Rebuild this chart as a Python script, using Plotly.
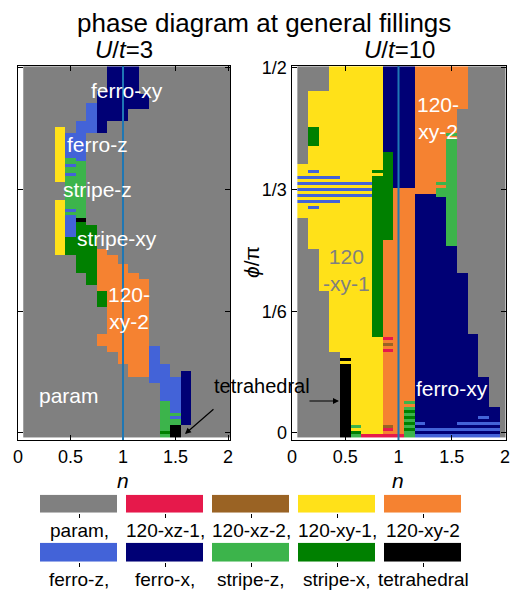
import numpy as np
import plotly.graph_objects as go

# ---------------- data ----------------
phases = ["param", "120-xz-1", "120-xz-2", "120-xy-1", "120-xy-2",
          "ferro-z", "ferro-x", "stripe-z", "stripe-x", "tetrahedral"]
phase_colors = ["#808080", "#E6194B", "#9A6324", "#FFE119", "#F58231",
                "#4363D8", "#000075", "#3CB44B", "#008000", "#000000"]
legend_top = ["param,", "120-xz-1,", "120-xz-2,", "120-xy-1,", "120-xy-2"]
legend_bottom = ["ferro-z,", "ferro-x,", "stripe-z,", "stripe-x,", "tetrahedral"]

n_values = [0.1, 0.2, 0.3, 0.4, 0.5, 0.6, 0.7, 0.8, 0.9, 1.0,
            1.1, 1.2, 1.3, 1.4, 1.5, 1.6, 1.7, 1.8, 1.9, 2.0]
phi_rows = np.arange(-1, 121) / 240.0          # phi/pi grid (row centres)

x_ticks = [0, 0.5, 1, 1.5, 2]
x_ticktext = ["0", "0.5", "1", "1.5", "2"]
phi_ticks = [0, 1 / 6, 1 / 3, 1 / 2]
phi_ticktext = ["0", "1/6", "1/3", "1/2"]

# (n_from, n_to, phase, phi_lo, phi_hi)  phi in units of pi, background = param
segments_u3 = [
    (0.4, 0.4, "120-xy-1", 0.3458, 0.4167),
    (0.4, 0.4, "120-xy-1", 0.2458, 0.3167),
    (0.5, 0.5, "ferro-z", 0.3792, 0.4083),
    (0.5, 0.5, "stripe-z", 0.3000, 0.3750),
    (0.5, 0.5, "ferro-z", 0.3667, 0.3667),
    (0.5, 0.5, "ferro-z", 0.3542, 0.3542),
    (0.5, 0.5, "ferro-z", 0.3042, 0.3042),
    (0.5, 0.5, "ferro-z", 0.2708, 0.2958),
    (0.5, 0.5, "stripe-x", 0.2458, 0.2667),
    (0.6, 0.6, "ferro-z", 0.3750, 0.4250),
    (0.6, 0.6, "stripe-z", 0.2958, 0.3708),
    (0.6, 0.6, "tetrahedral", 0.2917, 0.2917),
    (0.6, 0.6, "stripe-x", 0.2208, 0.2875),
    (0.7, 0.7, "ferro-z", 0.4125, 0.4500),
    (0.7, 0.7, "stripe-x", 0.2042, 0.2833),
    (0.8, 0.8, "ferro-x", 0.4125, 0.4667),
    (0.8, 0.8, "120-xy-2", 0.1958, 0.2500),
    (0.8, 0.8, "stripe-x", 0.1750, 0.1917),
    (0.8, 0.8, "120-xy-2", 0.1208, 0.1333),
    (0.9, 1.0, "ferro-x", 0.4292, 0.5000),
    (0.9, 0.9, "120-xy-2", 0.1125, 0.2417),
    (1.0, 1.0, "120-xy-2", 0.0958, 0.2292),
    (1.1, 1.1, "ferro-x", 0.4458, 0.5000),
    (1.2, 1.2, "ferro-x", 0.4458, 0.4625),
    (1.1, 1.1, "120-xy-2", 0.0792, 0.2167),
    (1.2, 1.2, "120-xy-2", 0.0792, 0.2083),
    (1.3, 1.3, "ferro-z", 0.0708, 0.1167),
    (1.4, 1.4, "ferro-z", 0.0458, 0.0917),
    (1.4, 1.4, "stripe-z", -0.0042, 0.0417),
    (1.4, 1.4, "stripe-x", 0.0000, 0.0000),
    (1.5, 1.5, "ferro-z", 0.0292, 0.0750),
    (1.5, 1.5, "stripe-z", 0.0250, 0.0250),
    (1.5, 1.5, "ferro-z", 0.0208, 0.0208),
    (1.5, 1.5, "stripe-z", 0.0125, 0.0167),
    (1.5, 1.5, "tetrahedral", -0.0042, 0.0083),
    (1.6, 1.6, "ferro-x", 0.0125, 0.0833),
]

segments_u10 = [
    (0.1, 0.1, "120-xy-1", 0.2958, 0.3667),
    (0.2, 0.2, "120-xy-1", 0.2542, 0.4667),
    (0.2, 0.2, "stripe-x", 0.3958, 0.4167),
    (0.3, 0.3, "120-xy-1", 0.1958, 0.4667),
    (0.4, 0.4, "120-xy-1", 0.1125, 0.5000),
    (0.5, 0.5, "120-xy-1", 0.0958, 0.5000),
    (0.5, 0.5, "tetrahedral", -0.0042, 0.0917),
    (0.5, 0.5, "tetrahedral", 0.1000, 0.1000),
    (0.6, 0.6, "120-xy-1", -0.0042, 0.5000),
    (0.7, 0.8, "120-xy-1", 0.0000, 0.5000),
    (0.7, 0.8, "120-xz-1", -0.0042, -0.0042),
    (0.8, 0.8, "stripe-x", 0.1333, 0.3500),
    (0.8, 0.8, "stripe-x", 0.3583, 0.3583),
    (0.2, 0.2, "ferro-z", 0.3583, 0.3583),
    (0.1, 0.4, "ferro-z", 0.3500, 0.3500),
    (0.1, 0.7, "ferro-z", 0.3417, 0.3417),
    (0.1, 0.7, "ferro-z", 0.3333, 0.3333),
    (0.1, 0.7, "ferro-z", 0.3250, 0.3250),
    (0.1, 0.4, "ferro-z", 0.3167, 0.3167),
    (0.2, 0.2, "ferro-z", 0.3083, 0.3083),
    (0.6, 0.6, "stripe-z", 0.0083, 0.0083),
    (0.6, 0.6, "stripe-x", 0.0000, 0.0000),
    (0.6, 0.6, "stripe-z", -0.0042, -0.0042),
    (0.9, 0.9, "ferro-x", 0.3875, 0.5000),
    (0.9, 0.9, "stripe-x", 0.2667, 0.3833),
    (0.9, 0.9, "120-xy-2", 0.0000, 0.2625),
    (0.9, 0.9, "120-xz-1", 0.1292, 0.1292),
    (0.9, 0.9, "120-xz-2", 0.1208, 0.1208),
    (0.9, 0.9, "120-xz-1", 0.1125, 0.1125),
    (0.9, 0.9, "120-xz-2", 0.0083, 0.0083),
    (0.9, 0.9, "120-xz-1", 0.0042, 0.0042),
    (0.9, 1.0, "120-xz-1", -0.0042, -0.0042),
    (1.0, 1.1, "ferro-x", 0.3375, 0.5000),
    (1.0, 1.0, "120-xy-2", 0.0000, 0.3333),
    (1.1, 1.1, "120-xy-2", 0.0458, 0.3333),
    (1.1, 1.1, "stripe-z", -0.0042, 0.0417),
    (1.1, 1.1, "120-xy-2", 0.0375, 0.0375),
    (1.1, 1.1, "stripe-x", 0.0292, 0.0292),
    (1.1, 1.1, "stripe-x", 0.0208, 0.0208),
    (1.1, 1.1, "stripe-x", 0.0125, 0.0125),
    (1.1, 1.1, "stripe-x", 0.0042, 0.0042),
    (1.2, 1.3, "120-xy-2", 0.3292, 0.5000),
    (1.2, 1.3, "ferro-x", -0.0042, 0.3250),
    (1.4, 1.4, "120-xy-2", 0.3375, 0.5000),
    (1.4, 1.4, "stripe-z", 0.3417, 0.3417),
    (1.4, 1.4, "stripe-z", 0.3250, 0.3333),
    (1.4, 1.4, "ferro-x", -0.0042, 0.3208),
    (1.5, 1.5, "120-xy-2", 0.4042, 0.5000),
    (1.5, 1.5, "stripe-z", 0.4083, 0.4083),
    (1.5, 1.5, "stripe-z", 0.2583, 0.4000),
    (1.5, 1.5, "ferro-x", -0.0042, 0.2542),
    (1.6, 1.6, "120-xy-2", 0.4458, 0.5000),
    (1.6, 1.6, "ferro-x", -0.0042, 0.2167),
    (1.7, 1.7, "ferro-x", -0.0042, 0.1333),
    (1.8, 1.8, "ferro-x", -0.0042, 0.0750),
    (1.9, 1.9, "ferro-x", -0.0042, 0.0333),
    (1.2, 1.9, "ferro-z", -0.0042, -0.0042),
    (1.2, 1.9, "ferro-z", 0.0042, 0.0042),
    (1.2, 1.2, "ferro-z", 0.0125, 0.0125),
    (1.6, 1.9, "ferro-z", 0.0125, 0.0125),
    (1.8, 1.8, "ferro-z", 0.0208, 0.0208),
]


def build_grid(segments):
    nv = np.array(n_values)
    z = np.zeros((len(phi_rows), len(nv)))
    for n0, n1, ph, lo, hi in segments:
        cols = (nv >= n0 - 1e-6) & (nv <= n1 + 1e-6)
        rows = (phi_rows >= lo - 1e-3) & (phi_rows <= hi + 1e-3)
        z[np.ix_(rows, cols)] = phases.index(ph)
    return z


nph = len(phases)
colorscale = []
for i, c in enumerate(phase_colors):
    colorscale.append([i / nph, c])
    colorscale.append([(i + 1) / nph, c])

FONT = "Liberation Sans, Arial, Helvetica, sans-serif"

fig = go.Figure()
for z, xa, ya in [(build_grid(segments_u3), "x", "y"),
                  (build_grid(segments_u10), "x2", "y2")]:
    fig.add_trace(go.Heatmap(x=n_values, y=phi_rows, z=z, xaxis=xa, yaxis=ya,
                             colorscale=colorscale, zmin=-0.5, zmax=nph - 0.5,
                             showscale=False, hoverinfo="skip"))

# colour key, two rows of five
fig.add_trace(go.Heatmap(x=[0, 1, 2, 3, 4], y=[0], z=[[0, 1, 2, 3, 4]],
                         xaxis="x3", yaxis="y3", xgap=9,
                         colorscale=colorscale, zmin=-0.5, zmax=nph - 0.5,
                         showscale=False, hoverinfo="skip"))
fig.add_trace(go.Heatmap(x=[0, 1, 2, 3, 4], y=[0], z=[[5, 6, 7, 8, 9]],
                         xaxis="x4", yaxis="y4", xgap=9,
                         colorscale=colorscale, zmin=-0.5, zmax=nph - 0.5,
                         showscale=False, hoverinfo="skip"))

W, H = 510, 592
ydom = [1 - 440 / H, 1 - 66 / H]
axis_common = dict(showline=True, linecolor="black", linewidth=1, mirror="ticks",
                   ticks="inside", ticklen=5, tickcolor="black", showgrid=False,
                   zeroline=False, automargin=False, ticklabeloverflow="allow",
                   tickfont=dict(family=FONT, size=18, color="black"))
key_x = dict(domain=[36 / W, 466 / W], range=[-0.5, 4.5],
             tickvals=[0, 1, 2, 3, 4], showticklabels=False, ticks="outside",
             ticklen=4, tickcolor="black", showline=False, showgrid=False,
             zeroline=False, automargin=False)

fig.update_layout(
    width=W, height=H, margin=dict(l=0, r=0, t=0, b=0),
    paper_bgcolor="white", plot_bgcolor="white", showlegend=False,
    font=dict(family=FONT, color="black"),
    xaxis=dict(domain=[17.5 / W, 230.1 / W], range=[-0.005, 2.02], anchor="y",
               tickvals=x_ticks, ticktext=x_ticktext, **axis_common),
    yaxis=dict(domain=ydom, range=[-0.0096, 0.5027], anchor="x",
               tickvals=phi_ticks, ticktext=phi_ticktext, showticklabels=False,
               **axis_common),
    xaxis2=dict(domain=[291.5 / W, 505.5 / W], range=[-0.005, 2.005], anchor="y2",
                tickvals=x_ticks, ticktext=x_ticktext, **axis_common),
    yaxis2=dict(domain=ydom, range=[-0.0096, 0.5027], anchor="x2",
                tickvals=phi_ticks, ticktext=phi_ticktext, **axis_common),
    xaxis3=dict(anchor="y3", **key_x),
    yaxis3=dict(domain=[1 - 512.7 / H, 1 - 494.7 / H], range=[-0.5, 0.5],
                anchor="x3", visible=False),
    xaxis4=dict(anchor="y4", **key_x),
    yaxis4=dict(domain=[1 - 561.7 / H, 1 - 542.7 / H], range=[-0.5, 0.5],
                anchor="x4", visible=False),
)

# n = 1 lines
for xr, yr in [("x", "y domain"), ("x2", "y2 domain")]:
    fig.add_shape(type="line", xref=xr, yref=yr, x0=1, x1=1, y0=0, y1=1,
                  line=dict(color="#1f77b4", width=2))

ann = []


def txt(text, x, y, xref="paper", yref="paper", size=21, color="black", **kw):
    ann.append(dict(text=text, x=x, y=y, xref=xref, yref=yref, showarrow=False,
                    font=dict(family=FONT, size=size, color=color),
                    xanchor="center", yanchor="middle", **kw))


txt("phase diagram at general fillings", 264 / W, 1 - 23 / H, size=26)
txt("<i>U</i>/<i>t</i>=3", 124 / W, 1 - 50 / H, size=24)
txt("<i>U</i>/<i>t</i>=10", 399 / W, 1 - 50 / H, size=24)
txt("<i>n</i>", 123 / W, 1 - 480 / H, size=21)
txt("<i>n</i>", 398 / W, 1 - 480 / H, size=21)
txt("<i>ϕ</i>/π", 251 / W, 1 - 262 / H, size=21, textangle=-90)

# colour-key labels (under each patch)
for i, lab in enumerate(legend_top):
    txt(lab, (79 + 86 * i) / W, 1 - 530 / H, size=19)
for i, lab in enumerate(legend_bottom):
    txt(lab, (79 + 86 * i) / W, 1 - 579 / H, size=19)

# phase labels, U/t=3
txt("ferro-xy", 1.038, 0.4685, "x", "y", color="white")
txt("ferro-z", 0.759, 0.3945, "x", "y", color="white")
txt("stripe-z", 0.757, 0.333, "x", "y", color="white")
txt("stripe-xy", 0.94, 0.267, "x", "y", color="white")
txt("120-<br>xy-2", 1.057, 0.171, "x", "y", color="white")
txt("param", 0.49, 0.052, "x", "y", color="white")
# phase labels, U/t=10
txt("120-<br>xy-2", 1.371, 0.432, "x2", "y2", color="white")
txt("120<br>-xy-1", 0.507, 0.2233, "x2", "y2", color="#808080")
txt("ferro-xy", 1.498, 0.0603, "x2", "y2", color="white")
txt("tetrahedral", 262 / W, 1 - 386 / H, size=20)

# arrows
ann.append(dict(x=1.59, y=-0.0014, xref="x", yref="y", ax=30, ay=-26, text="",
                showarrow=True, arrowhead=2, arrowsize=1, arrowwidth=1.2,
                arrowcolor="black", standoff=0))
ann.append(dict(x=0.441, y=0.0438, xref="x2", yref="y2", ax=-31, ay=0, text="",
                showarrow=True, arrowhead=2, arrowsize=1, arrowwidth=1.2,
                arrowcolor="black", standoff=0))

fig.update_layout(annotations=ann)
fig.write_html("out.html")
